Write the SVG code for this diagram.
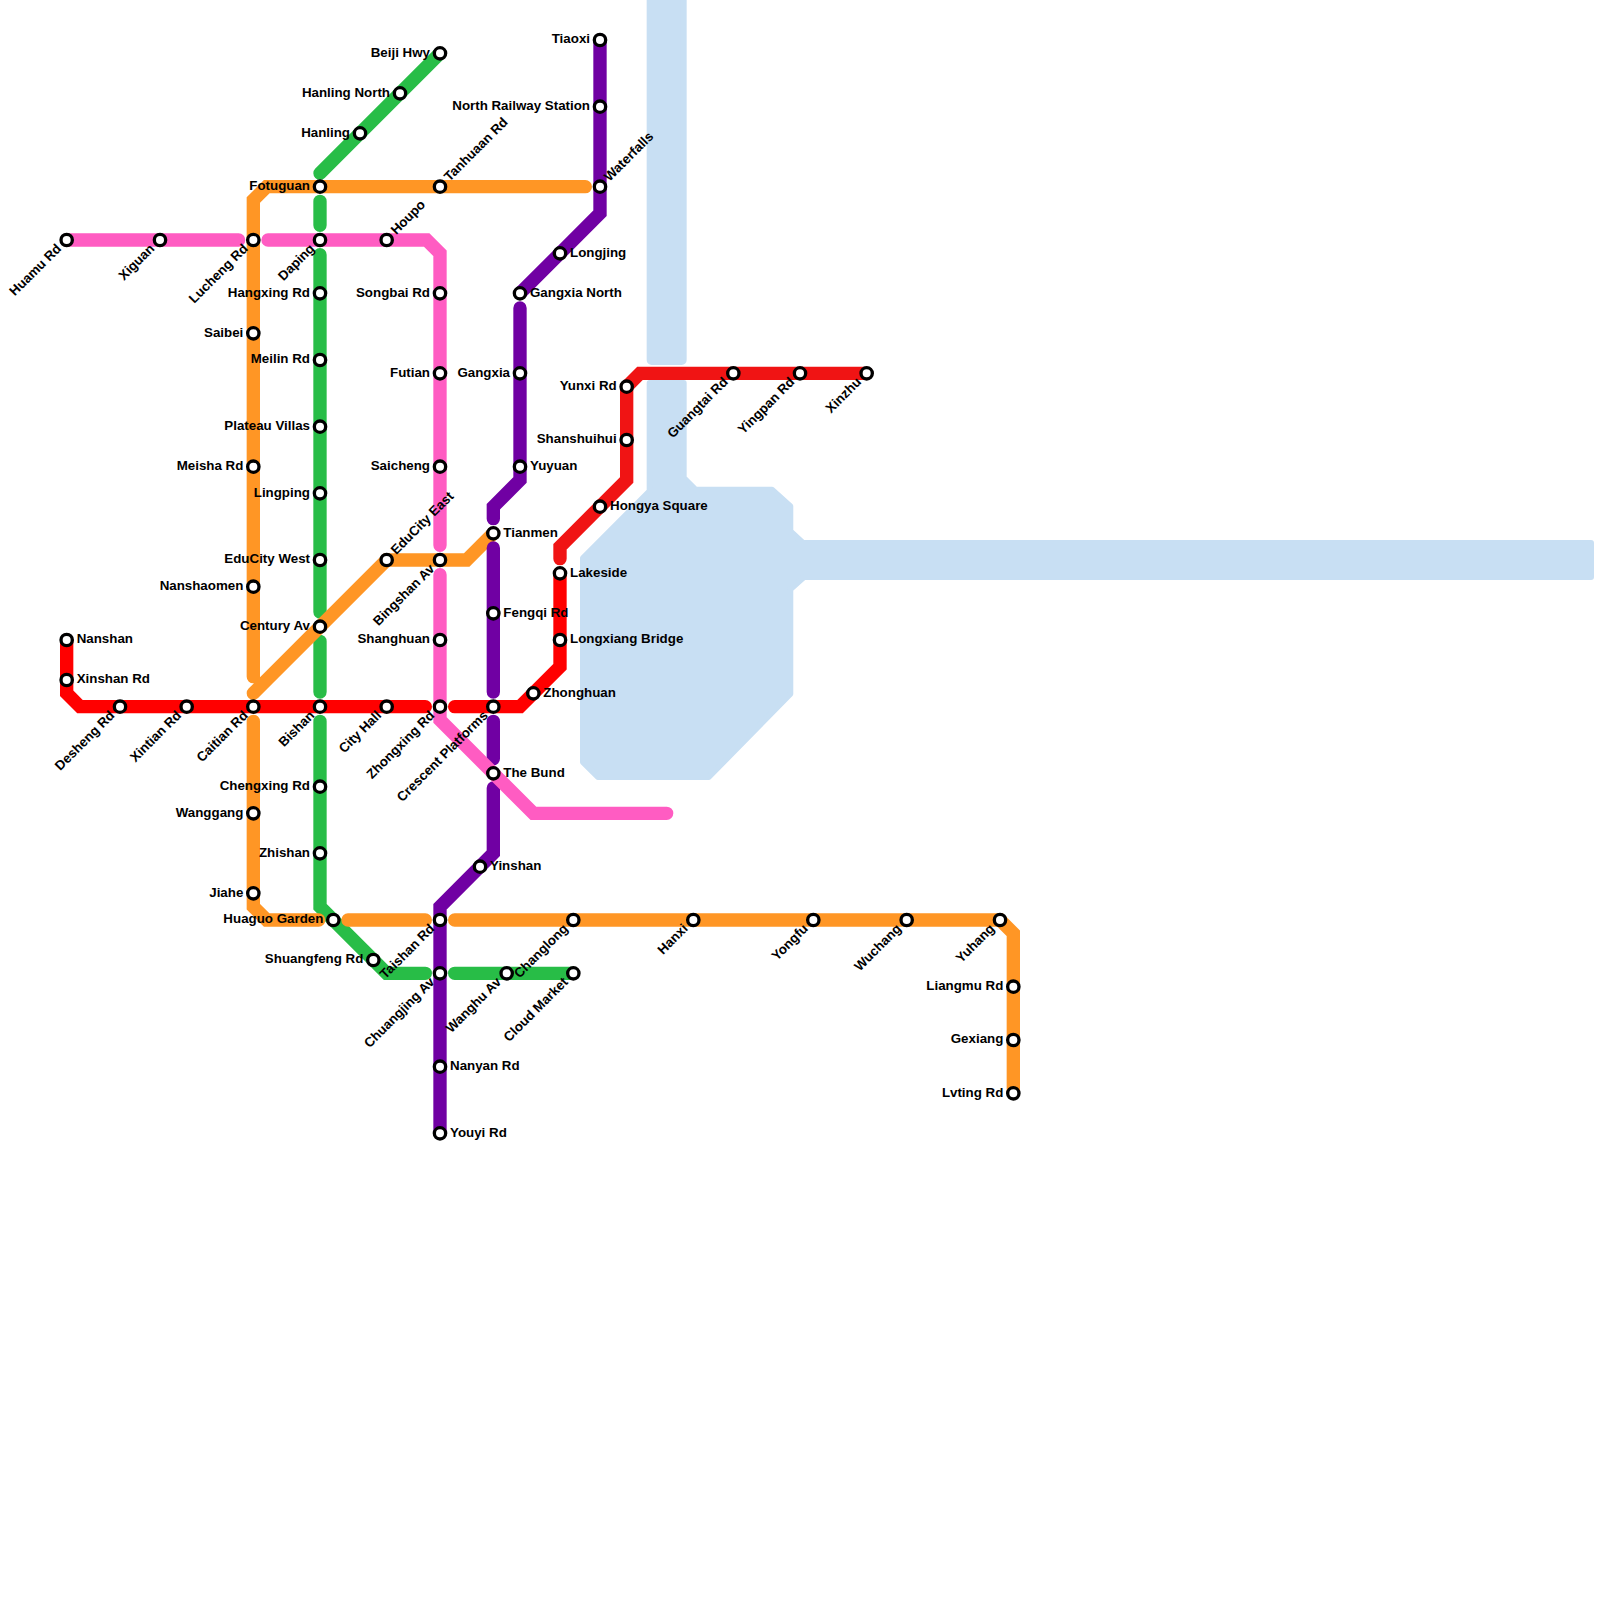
<svg xmlns="http://www.w3.org/2000/svg" width="1600" height="1600" viewBox="0 0 1600 1600">
<style>
.w{fill:#c8dff3;stroke:#c8dff3;stroke-width:6;stroke-linejoin:round}
.ln{fill:none;stroke-width:1;stroke-linecap:round;stroke-linejoin:miter;stroke-miterlimit:8}
circle{fill:#fff;stroke:#000;stroke-width:3.33;r:5.67px}
text{font-family:"Liberation Sans",Arial,sans-serif;font-weight:700;font-size:13.33px;fill:#000}
.l{text-anchor:end;transform:translate(-10px,3.4px)}
.r{transform:translate(10px,3.4px)}
.d{text-anchor:end;transform:rotate(-45deg) translate(-10px,3.4px)}
.u{transform:rotate(-45deg) translate(10px,3.4px)}
</style>
<g id="water">
<rect class="w" x="649.67" y="-10" width="34" height="372" rx="2"/>
<path class="w" d="M649.67 383H683.67V478L695.5 489.7H772L790.3 506.2V531.2L803 543H1591V577H804L790.3 589.2V693.8L708.8 777H597.9L583 762.1V558L649.67 491.2Z"/>
</g>
<g id="connectors" transform="scale(13.3333)">
<path class="ln" stroke="#28bd47" d="M33 4L24 13M24 15.1V16.9M24 19.1V45.9M24 48.1V51.9M24 54.1V68L29 73H31.9M34.1 73H43"/>
<path class="ln" stroke="#ff9625" d="M43.9 14H20L19 15V50.75M19 52L29 42H35L37 40M19 54.1V68L20 69H23.9M26.1 69H31.9M34.1 69H75L76 70V82"/>
<path class="ln" stroke="#7000a3" d="M45 3V16L39 22M39 23.1V36L37 38V38.9M37 41.1V51.9M37 54.1V56.9M37 59.1V64L33 68V85"/>
<path class="ln" stroke="#ff5cc2" d="M5 18H17.9M20.1 18H32L33 19V40.9M33 43.1V54L40 61H50"/>
<path class="ln" stroke="#ff0000" d="M5 48V52L6 53H31.9M34.1 53H39L42 50V43"/>
<path class="ln" stroke="#f01414" d="M42 41.9V41L47 36V29L48 28H65"/>
</g>
<g id="nodes">
<g id="huamu-rd" transform="translate(66.67 240)"><circle/><text class="d">Huamu Rd</text></g>
<g id="xiguan" transform="translate(160 240)"><circle/><text class="d">Xiguan</text></g>
<g id="lucheng-rd" transform="translate(253.33 240)"><circle/><text class="d">Lucheng Rd</text></g>
<g id="daping" transform="translate(320 240)"><circle/><text class="d">Daping</text></g>
<g id="houpo" transform="translate(386.67 240)"><circle/><text class="u">Houpo</text></g>
<g id="songbai-rd" transform="translate(440 293.33)"><circle/><text class="l">Songbai Rd</text></g>
<g id="futian" transform="translate(440 373.33)"><circle/><text class="l">Futian</text></g>
<g id="saicheng" transform="translate(440 466.67)"><circle/><text class="l">Saicheng</text></g>
<g id="bingshan-av" transform="translate(440 560)"><circle/><text class="d">Bingshan Av</text></g>
<g id="shanghuan" transform="translate(440 640)"><circle/><text class="l">Shanghuan</text></g>
<g id="zhongxing-rd" transform="translate(440 706.67)"><circle/><text class="d">Zhongxing Rd</text></g>
<g id="beiji-hwy" transform="translate(440 53.33)"><circle/><text class="l">Beiji Hwy</text></g>
<g id="hanling-north" transform="translate(400 93.33)"><circle/><text class="l">Hanling North</text></g>
<g id="hanling" transform="translate(360 133.33)"><circle/><text class="l">Hanling</text></g>
<g id="fotuguan" transform="translate(320 186.67)"><circle/><text class="l">Fotuguan</text></g>
<g id="tanhuaan-rd" transform="translate(440 186.67)"><circle/><text class="u">Tanhuaan Rd</text></g>
<g id="waterfalls" transform="translate(600 186.67)"><circle/><text class="u">Waterfalls</text></g>
<g id="hangxing-rd" transform="translate(320 293.33)"><circle/><text class="l">Hangxing Rd</text></g>
<g id="meilin-rd" transform="translate(320 360)"><circle/><text class="l">Meilin Rd</text></g>
<g id="plateau-villas" transform="translate(320 426.67)"><circle/><text class="l">Plateau Villas</text></g>
<g id="lingping" transform="translate(320 493.33)"><circle/><text class="l">Lingping</text></g>
<g id="educity-west" transform="translate(320 560)"><circle/><text class="l">EduCity West</text></g>
<g id="century-av" transform="translate(320 626.67)"><circle/><text class="l">Century Av</text></g>
<g id="bishan" transform="translate(320 706.67)"><circle/><text class="d">Bishan</text></g>
<g id="chengxing-rd" transform="translate(320 786.67)"><circle/><text class="l">Chengxing Rd</text></g>
<g id="zhishan" transform="translate(320 853.33)"><circle/><text class="l">Zhishan</text></g>
<g id="saibei" transform="translate(253.33 333.33)"><circle/><text class="l">Saibei</text></g>
<g id="meisha-rd" transform="translate(253.33 466.67)"><circle/><text class="l">Meisha Rd</text></g>
<g id="nanshaomen" transform="translate(253.33 586.67)"><circle/><text class="l">Nanshaomen</text></g>
<g id="caitian-rd" transform="translate(253.33 706.67)"><circle/><text class="d">Caitian Rd</text></g>
<g id="wanggang" transform="translate(253.33 813.33)"><circle/><text class="l">Wanggang</text></g>
<g id="jiahe" transform="translate(253.33 893.33)"><circle/><text class="l">Jiahe</text></g>
<g id="nanshan" transform="translate(66.67 640)"><circle/><text class="r">Nanshan</text></g>
<g id="xinshan-rd" transform="translate(66.67 680)"><circle/><text class="r">Xinshan Rd</text></g>
<g id="desheng-rd" transform="translate(120 706.67)"><circle/><text class="d">Desheng Rd</text></g>
<g id="xintian-rd" transform="translate(186.67 706.67)"><circle/><text class="d">Xintian Rd</text></g>
<g id="city-hall" transform="translate(386.67 706.67)"><circle/><text class="d">City Hall</text></g>
<g id="educity-east" transform="translate(386.67 560)"><circle/><text class="u">EduCity East</text></g>
<g id="crescent-platforms" transform="translate(493.33 706.67)"><circle/><text class="d">Crescent Platforms</text></g>
<g id="zhonghuan" transform="translate(533.33 693.33)"><circle/><text class="r">Zhonghuan</text></g>
<g id="longxiang-bridge" transform="translate(560 640)"><circle/><text class="r">Longxiang Bridge</text></g>
<g id="lakeside" transform="translate(560 573.33)"><circle/><text class="r">Lakeside</text></g>
<g id="hongya-square" transform="translate(600 506.67)"><circle/><text class="r">Hongya Square</text></g>
<g id="shanshuihui" transform="translate(626.67 440)"><circle/><text class="l">Shanshuihui</text></g>
<g id="yunxi-rd" transform="translate(626.67 386.67)"><circle/><text class="l">Yunxi Rd</text></g>
<g id="guangtai-rd" transform="translate(733.33 373.33)"><circle/><text class="d">Guangtai Rd</text></g>
<g id="yingpan-rd" transform="translate(800 373.33)"><circle/><text class="d">Yingpan Rd</text></g>
<g id="xinzhu" transform="translate(866.67 373.33)"><circle/><text class="d">Xinzhu</text></g>
<g id="tiaoxi" transform="translate(600 40)"><circle/><text class="l">Tiaoxi</text></g>
<g id="north-railway-station" transform="translate(600 106.67)"><circle/><text class="l">North Railway Station</text></g>
<g id="longjing" transform="translate(560 253.33)"><circle/><text class="r">Longjing</text></g>
<g id="gangxia-north" transform="translate(520 293.33)"><circle/><text class="r">Gangxia North</text></g>
<g id="gangxia" transform="translate(520 373.33)"><circle/><text class="l">Gangxia</text></g>
<g id="yuyuan" transform="translate(520 466.67)"><circle/><text class="r">Yuyuan</text></g>
<g id="tianmen" transform="translate(493.33 533.33)"><circle/><text class="r">Tianmen</text></g>
<g id="fengqi-rd" transform="translate(493.33 613.33)"><circle/><text class="r">Fengqi Rd</text></g>
<g id="the-bund" transform="translate(493.33 773.33)"><circle/><text class="r">The Bund</text></g>
<g id="yinshan" transform="translate(480 866.67)"><circle/><text class="r">Yinshan</text></g>
<g id="huaguo-garden" transform="translate(333.33 920)"><circle/><text class="l">Huaguo Garden</text></g>
<g id="shuangfeng-rd" transform="translate(373.33 960)"><circle/><text class="l">Shuangfeng Rd</text></g>
<g id="taishan-rd" transform="translate(440 920)"><circle/><text class="d">Taishan Rd</text></g>
<g id="chuangjing-av" transform="translate(440 973.33)"><circle/><text class="d">Chuangjing Av</text></g>
<g id="wanghu-av" transform="translate(506.67 973.33)"><circle/><text class="d">Wanghu Av</text></g>
<g id="cloud-market" transform="translate(573.33 973.33)"><circle/><text class="d">Cloud Market</text></g>
<g id="changlong" transform="translate(573.33 920)"><circle/><text class="d">Changlong</text></g>
<g id="nanyan-rd" transform="translate(440 1066.67)"><circle/><text class="r">Nanyan Rd</text></g>
<g id="youyi-rd" transform="translate(440 1133.33)"><circle/><text class="r">Youyi Rd</text></g>
<g id="hanxi" transform="translate(693.33 920)"><circle/><text class="d">Hanxi</text></g>
<g id="yongfu" transform="translate(813.33 920)"><circle/><text class="d">Yongfu</text></g>
<g id="wuchang" transform="translate(906.67 920)"><circle/><text class="d">Wuchang</text></g>
<g id="yuhang" transform="translate(1000 920)"><circle/><text class="d">Yuhang</text></g>
<g id="liangmu-rd" transform="translate(1013.33 986.67)"><circle/><text class="l">Liangmu Rd</text></g>
<g id="gexiang" transform="translate(1013.33 1040)"><circle/><text class="l">Gexiang</text></g>
<g id="lvting-rd" transform="translate(1013.33 1093.33)"><circle/><text class="l">Lvting Rd</text></g>
</g>
</svg>
